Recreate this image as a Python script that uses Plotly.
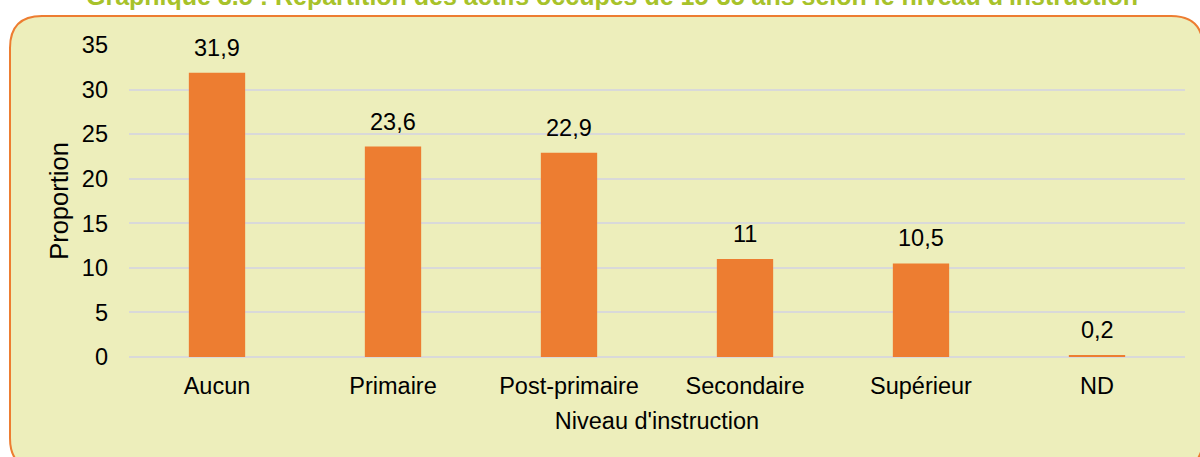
import plotly.graph_objects as go

categories = ["Aucun", "Primaire", "Post-primaire", "Secondaire", "Supérieur", "ND"]
values = [31.9, 23.6, 22.9, 11, 10.5, 0.2]
labels = ["31,9", "23,6", "22,9", "11", "10,5", "0,2"]
title_text = "Graphique 3.5 : Répartition des actifs occupés de 15-35 ans selon le niveau d'instruction"

W, H = 1200, 457
L, R, T, B = 129, 15, 45, 100
pw, ph = W - L - R, H - T - B

def px(x):
    return (x - L) / pw

def py(y):
    return (H - B - y) / ph

FS = 23.5

fig = go.Figure()
fig.add_trace(go.Bar(
    x=categories, y=values,
    marker=dict(color="#ED7D31", line=dict(width=0)),
))

for c, v, t in zip(categories, values, labels):
    fig.add_annotation(x=c, y=v, text=t, showarrow=False, yanchor="bottom",
                       yshift=10, font=dict(size=FS, color="#000000"))

# rounded background box
x0, y0, x1, y1, r = 10, 16, 1203, 470, 32
path = (f"M {px(x0+r)} {py(y0)} L {px(x1-r)} {py(y0)} "
        f"Q {px(x1)} {py(y0)} {px(x1)} {py(y0+r)} "
        f"L {px(x1)} {py(y1-r)} Q {px(x1)} {py(y1)} {px(x1-r)} {py(y1)} "
        f"L {px(x0+r)} {py(y1)} Q {px(x0)} {py(y1)} {px(x0)} {py(y1-r)} "
        f"L {px(x0)} {py(y0+r)} Q {px(x0)} {py(y0)} {px(x0+r)} {py(y0)} Z")
fig.add_shape(type="path", path=path, xref="paper", yref="paper",
              fillcolor="#EDEEBB", line=dict(color="#ED7D31", width=2), layer="below")

fig.add_annotation(text=f"<b>{title_text}</b>", xref="paper", yref="paper",
                   x=px(612), y=py(-4), xanchor="center", yanchor="middle",
                   showarrow=False, font=dict(size=25, color="#A7C22A"))

fig.update_layout(
    width=W, height=H,
    margin=dict(l=L, r=R, t=T, b=B),
    paper_bgcolor="#FFFFFF", plot_bgcolor="rgba(0,0,0,0)",
    font=dict(family="Liberation Sans, Arial, sans-serif", size=FS, color="#000000"),
    bargap=0.68, showlegend=False,
    xaxis=dict(showgrid=False, showline=False, ticks="", tickfont=dict(size=FS),
               ticklabelstandoff=12,
               title=dict(text="Niveau d'instruction", font=dict(size=FS), standoff=15)),
    yaxis=dict(range=[0, 35], dtick=5, showgrid=True, gridcolor="#D9D9D9", gridwidth=2,
               zeroline=True, zerolinecolor="#D9D9D9", zerolinewidth=2,
               showline=False, ticks="", tickfont=dict(size=FS), ticklabelstandoff=20,
               title=dict(text="Proportion", font=dict(size=25.5), standoff=5)),
)

fig.write_html("out.html", config={"displayModeBar": False},
               post_script="document.body.style.margin='0px';document.body.style.overflow='hidden';")
